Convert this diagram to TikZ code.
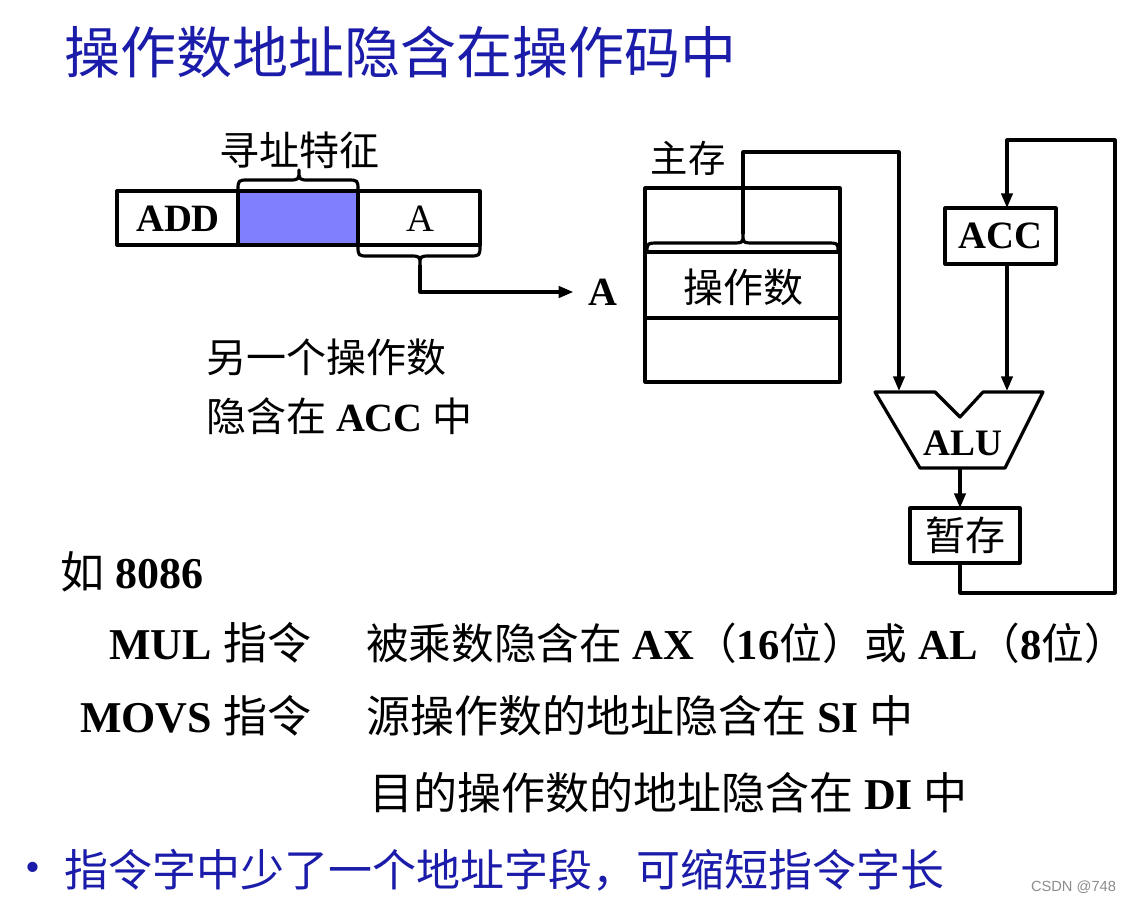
\documentclass[tikz,border=0pt]{standalone}
\usepackage{fontspec}
\setmainfont{Liberation Serif}
\newfontfamily\cjk{Noto Sans CJK SC}
\newfontfamily\wmfont{Liberation Sans}
\usetikzlibrary{arrows.meta}
\definecolor{titleblue}{RGB}{28,28,170}
\definecolor{fieldblue}{RGB}{128,128,255}
\newcommand\zh[1]{{\cjk #1}}

\begin{document}
\begin{tikzpicture}[x=0.75pt,y=-0.75pt,line width=2.4pt,line join=round,
  every node/.style={inner sep=0pt,outer sep=0pt},
  arr/.style={-{Triangle[length=11pt,width=8.5pt]}},
  lat/.style={font=\bfseries\fontsize{29}{32}\selectfont},
  zhlabel/.style={font=\cjk\fontsize{30}{34}\selectfont},
  bodytext/.style={font=\fontsize{33}{38}\selectfont},
  titletext/.style={font=\cjk\fontsize{42}{48}\selectfont,text=titleblue}]

% canvas
\path[use as bounding box,fill=white] (0,0) rectangle (1131,903);

% heading
\node[titletext,anchor=west] (title) at (64,52) {操作数地址隐含在操作码中};

% ---- instruction word ----
\fill[fieldblue] (238,191) rectangle (358,245);
\draw (117,191) rectangle (480,245);
\draw (238,191) -- (238,245);
\draw (358,191) -- (358,245);
\node[lat] (fadd) at (178,219) {ADD};
\node[lat,font=\fontsize{29}{32}\selectfont] (faddr) at (420,219) {A};

% brace over the mode field
\draw (238,191) .. controls (238,180) .. (249,180) -- (288,180)
      .. controls (299,180) .. (299,170) .. controls (299,180) .. (310,180)
      -- (347,180) .. controls (358,180) .. (358,191);
\node[zhlabel] (modelbl) at (299,150) {寻址特征};

% brace under the address field
\draw (358,245) .. controls (358,256) .. (369,256) -- (409,256)
      .. controls (420,256) .. (420,265) .. controls (420,256) .. (431,256)
      -- (469,256) .. controls (480,256) .. (480,245);
\coordinate (tipA) at (420,265);
\node[lat,font=\bfseries\fontsize{30}{32}\selectfont,anchor=west] (aaddr) at (588,292) {A};
\draw[arr] (tipA) |- ([xshift=-11pt]aaddr.west);

\node[zhlabel,anchor=west] (note1) at (206,357) {另一个操作数};
\node[anchor=west,font=\fontsize{30}{34}\selectfont] (note2) at (206,416)
  {\zh{隐含在} \textbf{ACC} \zh{中}};

% ---- main memory ----
\node[font=\cjk\fontsize{28}{32}\selectfont] (mainmem) at (688,158) {主存};
\draw (645,188) rectangle (840,382);
\draw (645,252) -- (840,252);
\draw (645,318) -- (840,318);
\node[zhlabel] (operand) at (743,287) {操作数};
\draw (647,252) .. controls (647,243) .. (660,243) -- (731,243)
      .. controls (743,243) .. (743,234) .. controls (743,243) .. (755,243)
      -- (826,243) .. controls (838,243) .. (838,252);
\coordinate (memtip) at (743,234);

% ---- ALU ----
\draw (875,392) -- (935,392) -- (960,417) -- (983,392) -- (1043,392)
      -- (1005,468) -- (920,468) -- cycle;
\node[lat,font=\bfseries\fontsize{28}{32}\selectfont] (alu) at (963,443) {ALU};
\coordinate (aluinL) at (899,391);
\coordinate (aluinR) at (1007,391);
\coordinate (aluout) at (960,468);

% ---- accumulator and buffer ----
\node[draw,lat,minimum width=111*0.75pt,minimum height=56*0.75pt] (acc) at (1000.5,236) {ACC};
\node[draw,zhlabel,minimum width=110*0.75pt,minimum height=55*0.75pt] (tmp) at (965,535.5) {暂存};

% ---- data paths ----
\coordinate (bendM) at (743,152);
\draw[arr] (memtip) -- (bendM) -| (aluinL);
\draw[arr] (acc.south -| aluinR) -- (aluinR);
\draw[arr] (aluout) -- (aluout |- tmp.north);
\coordinate (fbA) at (960,593);
\coordinate (fbB) at (1115,593);
\coordinate (fbC) at (1115,140);
\coordinate (fbD) at (1007,140);
\draw[arr] (tmp.south -| aluout) -- (fbA) -- (fbB) -- (fbC) -- (fbD) -- (acc.north -| fbD);

% ---- examples ----
\node[bodytext,anchor=west] (ex) at (60,572) {\zh{如} \textbf{8086}};
\node[bodytext,anchor=east] (mul) at (311,643) {\textbf{MUL} \zh{指令}};
\node[anchor=west,font=\fontsize{32}{38}\selectfont] (mulnote) at (366,643)
  {\zh{被乘数隐含在} \textbf{AX}\zh{（}\textbf{16}\zh{位）或} \textbf{AL}\zh{（}\textbf{8}\zh{位）}};
\node[bodytext,anchor=east] (movs) at (311,716) {\textbf{MOVS} \zh{指令}};
\node[bodytext,anchor=west] (movsnote1) at (366,716)
  {\zh{源操作数的地址隐含在} \textbf{SI} \zh{中}};
\node[bodytext,anchor=west] (movsnote2) at (369,793)
  {\zh{目的操作数的地址隐含在} \textbf{DI} \zh{中}};

% ---- bullet ----
\node[font=\fontsize{32}{34}\selectfont,text=titleblue] (dot) at (33,872) {•};
\node[bodytext,anchor=west,text=titleblue] (summary) at (64,870)
  {\zh{指令字中少了一个地址字段，可缩短指令字长}};

\node[font=\wmfont\fontsize{11}{13}\selectfont,text=black!45,anchor=east] (wm) at (1116,887) {CSDN @748};
\end{tikzpicture}
\end{document}
